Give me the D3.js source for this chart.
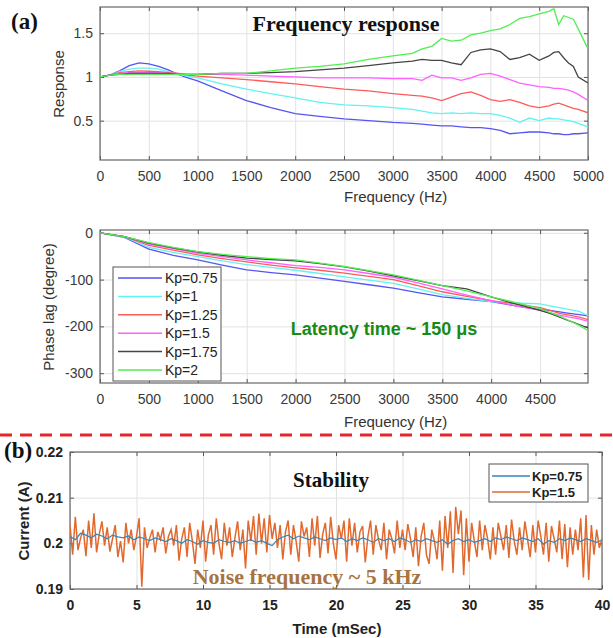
<!DOCTYPE html>
<html>
<head>
<meta charset="utf-8">
<script src="https://cdnjs.cloudflare.com/ajax/libs/d3/7.8.5/d3.min.js"></script>
<style>
body{margin:0;background:#fff;}
svg{display:block;}
.tk text{font-family:"Liberation Sans",Arial,sans-serif;font-size:14px;fill:#3a3a3a;}
.tk path,.tk line{stroke:#555;}
.grid line{stroke:#e2e2e2;}
.grid path{display:none;}
.bold text{font-weight:bold;fill:#222;}
</style>
</head>
<body>
<div id="chart"></div>
<script>
var W = 613, H = 638;

// ---- (a) frequency response ----
var freqA = [0,100,200,300,400,500,600,700,800,900,1000,1250,1500,1750,2000,2250,2500,2750,3000,3200,3300,3400,3500,3600,3700,3800,3900,4000,4100,4200,4300,4400,4500,4600,4650,4700,4750,4800,4850,4900,5000];
var kpNames = ["Kp=0.75","Kp=1","Kp=1.25","Kp=1.5","Kp=1.75","Kp=2"];
var kpColors = ["#5555f2","#62f2f2","#ff5a5a","#ff60ff","#454545","#50ee50"];

var resp075 = [1.0,1.02,1.07,1.13,1.16,1.15,1.12,1.08,1.03,0.99,0.955,0.84,0.73,0.65,0.58,0.55,0.52,0.50,0.48,0.47,0.46,0.45,0.44,0.44,0.43,0.42,0.42,0.41,0.39,0.35,0.36,0.37,0.37,0.36,0.35,0.35,0.34,0.34,0.35,0.35,0.36];
var resp1   = [1.0,1.02,1.06,1.09,1.10,1.10,1.09,1.06,1.03,1.01,0.99,0.92,0.86,0.81,0.76,0.71,0.68,0.67,0.65,0.63,0.61,0.59,0.58,0.59,0.58,0.59,0.58,0.58,0.56,0.53,0.48,0.53,0.50,0.53,0.52,0.52,0.51,0.50,0.49,0.47,0.43];
var resp125 = [1.0,1.02,1.05,1.06,1.07,1.065,1.06,1.05,1.04,1.02,1.01,0.99,0.97,0.945,0.92,0.89,0.86,0.84,0.81,0.79,0.78,0.76,0.73,0.77,0.81,0.83,0.79,0.74,0.72,0.74,0.71,0.67,0.65,0.67,0.69,0.70,0.68,0.66,0.64,0.63,0.59];
var resp15  = [1.0,1.02,1.04,1.05,1.05,1.05,1.05,1.04,1.04,1.03,1.03,1.03,1.02,1.01,1.0,0.99,0.99,0.99,0.98,0.98,0.96,1.02,0.99,0.99,0.96,0.99,1.03,1.04,1.01,0.97,0.93,0.91,0.89,0.88,0.87,0.87,0.86,0.85,0.83,0.80,0.73];
var resp175 = [1.0,1.02,1.03,1.04,1.04,1.04,1.04,1.04,1.03,1.03,1.03,1.04,1.04,1.05,1.06,1.08,1.10,1.13,1.16,1.18,1.20,1.19,1.19,1.16,1.14,1.28,1.31,1.32,1.29,1.20,1.22,1.26,1.19,1.24,1.28,1.29,1.22,1.16,1.12,1.0,0.93];
var resp2   = [1.0,1.02,1.03,1.03,1.03,1.03,1.03,1.03,1.03,1.03,1.03,1.04,1.04,1.07,1.10,1.12,1.15,1.20,1.24,1.27,1.32,1.35,1.44,1.41,1.42,1.48,1.50,1.53,1.55,1.60,1.67,1.69,1.72,1.75,1.78,1.60,1.70,1.68,1.66,1.55,1.32];
var respAll = [resp075,resp1,resp125,resp15,resp175,resp2];

var freqP = [0,250,500,750,1000,1250,1500,1750,2000,2250,2500,2750,3000,3250,3500,3750,4000,4250,4500,4600,4700,4800,4900,5000];
var ph075 = [0,-10,-35,-48,-58,-69,-79,-85,-90,-97,-104,-111,-118,-128,-137,-142,-147,-156,-164,-166,-169,-172,-175,-178];
var ph1   = [0,-9,-31,-42,-51,-60,-68,-74,-80,-87,-94,-101,-108,-120,-132,-140,-147,-150,-152,-156,-160,-164,-168,-178];
var ph125 = [0,-8,-27,-37,-47,-55,-62,-69,-75,-80,-86,-93,-100,-113,-126,-136,-145,-152,-160,-166,-172,-176,-180,-186];
var ph15  = [0,-8,-24,-34,-44,-51,-58,-64,-70,-74,-79,-87,-95,-107,-120,-133,-145,-156,-166,-171,-176,-180,-184,-190];
var ph175 = [0,-8,-22,-32,-41,-48,-54,-57,-60,-66,-73,-82,-92,-102,-113,-120,-137,-152,-166,-172,-180,-188,-196,-204];
var ph2   = [0,-8,-21,-31,-40,-46,-51,-55,-58,-65,-72,-81,-90,-101,-113,-124,-137,-149,-162,-170,-178,-188,-198,-210];
var phAll = [ph075,ph1,ph125,ph15,ph175,ph2];

// ---- (b) stability, current in A ----
var dtOrange = 0.2, dtBlue = 0.4; // ms between samples
var curKp15 = [
0.2040,0.1975,0.2058,0.1985,0.2012,0.2030,0.1972,0.2050,0.1990,0.2066,
0.1980,0.2020,0.2048,0.1995,0.2035,0.1982,0.2010,0.2040,0.1970,0.2005,
0.1958,0.2045,0.2000,0.2030,0.1985,0.2015,0.2055,0.1905,0.2035,0.1990,
0.2012,0.2030,0.1980,0.2025,0.2008,0.2035,0.1978,0.2015,0.2030,0.1995,
0.2040,0.1962,0.2010,0.2035,0.1970,0.2045,0.2005,0.1955,0.2030,0.1990,
0.2050,0.1960,0.2018,0.2040,0.1975,0.2055,0.2000,0.1965,0.2045,0.1995,
0.2035,0.1970,0.2012,0.2048,0.1985,0.2030,0.1945,0.2050,0.2005,0.2060,
0.1975,0.2065,0.2000,0.2055,0.1980,0.2062,0.2010,0.2045,0.1990,0.2040,
0.1965,0.2025,0.2050,0.1975,0.2040,0.2005,0.1960,0.2048,0.2015,0.2035,
0.1970,0.2055,0.1995,0.2060,0.1968,0.2020,0.2045,0.1978,0.2058,0.2000,
0.1965,0.2040,0.2010,0.2050,0.1960,0.2055,0.1995,0.2045,0.1980,0.2025,
0.2038,0.1958,0.2015,0.2050,0.1975,0.2040,0.2008,0.1985,0.2045,0.1965,
0.2030,0.2010,0.1978,0.2050,0.1990,0.2030,0.1985,0.2042,0.2010,0.1970,
0.2035,0.1950,0.2015,0.2045,0.1975,0.1955,0.2030,0.2005,0.1965,0.2050,
0.1940,0.2060,0.1990,0.2070,0.1935,0.2080,0.2020,0.2072,0.1930,0.2055,
0.1960,0.2045,0.2005,0.1970,0.2050,0.1985,0.2040,0.2010,0.1965,0.2035,
0.1975,0.2045,0.2015,0.1985,0.2040,0.1968,0.2052,0.2005,0.1975,0.2035,
0.1985,0.2048,0.2010,0.1970,0.2040,0.1980,0.2050,0.2015,0.1975,0.2045,
0.1960,0.2038,0.2010,0.1980,0.2050,0.1965,0.2042,0.1948,0.2035,0.1975,
0.2030,0.1985,0.2055,0.1925,0.2062,0.1920,0.2040,0.1975,0.2030,0.1990,
0.2010];
var curKp075 = [
0.2015,0.2008,0.2022,0.2018,0.2012,0.2020,0.2016,0.2010,0.2018,0.2014,
0.2012,0.2016,0.2008,0.2014,0.2010,0.2006,0.2012,0.2008,0.2004,0.2010,
0.2006,0.2000,0.2008,0.2004,0.1998,0.2006,0.2002,0.2000,0.2008,0.2004,
0.2002,0.2006,0.2000,0.2004,0.2008,0.2002,0.2006,0.2000,0.1995,0.2008,
0.2014,0.2018,0.2010,0.2016,0.2012,0.2008,0.2014,0.2010,0.2006,0.2012,
0.2008,0.2012,0.2004,0.2010,0.2006,0.2012,0.2008,0.2002,0.2010,0.2006,
0.2010,0.2004,0.2012,0.2008,0.2002,0.2008,0.2004,0.2010,0.2006,0.2002,
0.2008,0.1998,0.2006,0.2010,0.2004,0.2008,0.2002,0.2006,0.2010,0.2004,
0.2012,0.2008,0.2014,0.2010,0.2006,0.2012,0.2008,0.2004,0.2010,0.1998,
0.2006,0.2002,0.2010,0.2006,0.2012,0.2008,0.2004,0.2010,0.2006,0.2002,
0.2008];
var bNames = ["Kp=0.75","Kp=1.5"];
var bColors = ["#3a84b6","#e2692e"];

var svg = d3.select("#chart").append("svg").attr("width",W).attr("height",H);

function panelAxes(g, x, y, xt, yt, xfmt, yfmt, boldCls){
  var x0 = x.range()[0], x1 = x.range()[1], y0 = y.range()[0], y1 = y.range()[1];
  var h = y0 - y1, w = x1 - x0;
  g.append("g").attr("class","grid").attr("transform","translate(0,"+y0+")")
    .call(d3.axisBottom(x).tickValues(xt).tickSize(-h).tickFormat(""));
  g.append("g").attr("class","grid").attr("transform","translate("+x0+",0)")
    .call(d3.axisLeft(y).tickValues(yt).tickSize(-w).tickFormat(""));
  g.append("g").attr("class","tk "+boldCls).attr("transform","translate(0,"+y0+")")
    .call(d3.axisBottom(x).tickValues(xt).tickSizeInner(-4).tickSizeOuter(0).tickPadding(11).tickFormat(xfmt));
  g.append("g").attr("class","tk "+boldCls).attr("transform","translate("+x0+",0)")
    .call(d3.axisLeft(y).tickValues(yt).tickSizeInner(-4).tickSizeOuter(0).tickPadding(7).tickFormat(yfmt));
  g.append("g").attr("class","tk").attr("transform","translate(0,"+y1+")")
    .call(d3.axisTop(x).tickValues(xt).tickSizeInner(-4).tickSizeOuter(0).tickFormat(""));
  g.append("g").attr("class","tk").attr("transform","translate("+x1+",0)")
    .call(d3.axisRight(y).tickValues(yt).tickSizeInner(-4).tickSizeOuter(0).tickFormat(""));
  g.selectAll(".tk path").remove();
  g.append("rect").attr("x",x0).attr("y",y1).attr("width",w).attr("height",h)
    .attr("fill","none").attr("stroke","#666").attr("stroke-width",1.2);
}

function label(txt, x, y, opts){
  var t = svg.append("text").attr("x",x).attr("y",y).text(txt)
    .attr("font-family", opts.serif ? "'Liberation Serif','Times New Roman',serif" : "'Liberation Sans',Arial,sans-serif")
    .attr("font-size", opts.size || 15)
    .attr("font-weight", opts.bold ? "bold" : "normal")
    .attr("fill", opts.color || "#333")
    .attr("text-anchor", opts.anchor || "start");
  if(opts.rot) t.attr("transform","rotate(-90,"+x+","+y+")");
  return t;
}

// ===== panel 1: response =====
var x1 = d3.scaleLinear().domain([0,5000]).range([100,588]);
var y1 = d3.scaleLinear().domain([0.05,1.8]).range([160,7]);
var g1 = svg.append("g");
panelAxes(g1, x1, y1, d3.range(0,5001,500), [0.5,1,1.5], d3.format("d"), function(d){return d;}, "");
svg.append("clipPath").attr("id","c1").append("rect").attr("x",100).attr("y",7).attr("width",488).attr("height",153);
var line1 = d3.line().x(function(d,i){return x1(freqA[i]);}).y(function(d){return y1(d);});
g1.append("g").attr("clip-path","url(#c1)").selectAll("path").data(respAll).enter().append("path")
  .attr("d", line1).attr("fill","none").attr("stroke-width",1.3)
  .attr("stroke", function(d,i){return kpColors[i];});
label("Frequency (Hz)", 344, 202, {size:15});
label("Response", 64, 84, {size:15, rot:true, anchor:"middle"});
label("(a)", 11, 29, {serif:true, bold:true, size:23, color:"#111"});
label("Frequency response", 346, 31, {serif:true, bold:true, size:22, color:"#111", anchor:"middle"});

// ===== panel 2: phase =====
var x2 = d3.scaleLinear().domain([0,4990]).range([100,588]);
var y2 = d3.scaleLinear().domain([-321,6]).range([383,230]);
var g2 = svg.append("g");
panelAxes(g2, x2, y2, d3.range(0,4501,500), [-300,-200,-100,0], d3.format("d"), function(d){return d===0?"0":d;}, "");
svg.append("clipPath").attr("id","c2").append("rect").attr("x",100).attr("y",230).attr("width",488).attr("height",153);
var line2 = d3.line().x(function(d,i){return x2(freqP[i]);}).y(function(d){return y2(d);});
g2.append("g").attr("clip-path","url(#c2)").selectAll("path").data(phAll).enter().append("path")
  .attr("d", line2).attr("fill","none").attr("stroke-width",1.3)
  .attr("stroke", function(d,i){return kpColors[i];});
label("Frequency (Hz)", 344, 427, {size:15});
label("Phase lag (degree)", 54, 307, {size:15, rot:true, anchor:"middle"});
label("Latency time ~ 150 \u03bcs", 384, 335, {bold:true, size:18, color:"#178a17", anchor:"middle"});

// legend for panel 2
var leg2 = g2.append("g");
leg2.append("rect").attr("x",113).attr("y",267).attr("width",108).attr("height",114)
  .attr("fill","#fff").attr("stroke","#555").attr("stroke-width",1);
kpNames.forEach(function(n,i){
  var yy = 278 + i*18.4;
  leg2.append("line").attr("x1",118).attr("x2",162).attr("y1",yy).attr("y2",yy)
    .attr("stroke",kpColors[i]).attr("stroke-width",1.5);
  leg2.append("text").attr("x",165).attr("y",yy+5).text(n)
    .attr("font-family","'Liberation Sans',Arial,sans-serif").attr("font-size",14).attr("fill","#222");
});

// dashed separator
svg.append("line").attr("x1",0).attr("x2",W).attr("y1",435).attr("y2",435)
  .attr("stroke","#e8242a").attr("stroke-width",3).attr("stroke-dasharray","12,8");

// ===== panel 3: stability =====
var x3 = d3.scaleLinear().domain([0,40]).range([70,602]);
var y3 = d3.scaleLinear().domain([0.19,0.22]).range([589,452]);
var g3 = svg.append("g");
panelAxes(g3, x3, y3, d3.range(0,41,5), [0.19,0.2,0.21,0.22], d3.format("d"), function(d){return d3.format(".2f")(d).replace(/0$/,"");}, "bold");
svg.append("clipPath").attr("id","c3").append("rect").attr("x",70).attr("y",452).attr("width",532).attr("height",137);
var gl3 = g3.append("g").attr("clip-path","url(#c3)");
gl3.append("path").datum(curKp15)
  .attr("d", d3.line().x(function(d,i){return x3(i*dtOrange);}).y(function(d){return y3(d);}))
  .attr("fill","none").attr("stroke",bColors[1]).attr("stroke-width",1.5);
gl3.append("path").datum(curKp075)
  .attr("d", d3.line().x(function(d,i){return x3(i*dtBlue);}).y(function(d){return y3(d);}))
  .attr("fill","none").attr("stroke",bColors[0]).attr("stroke-width",1.2);

label("Time (mSec)", 337, 634, {bold:true, size:15, color:"#222", anchor:"middle"});
label("Current (A)", 29, 521, {bold:true, size:15, color:"#222", rot:true, anchor:"middle"});
label("(b)", 4, 458, {serif:true, bold:true, size:23, color:"#111"});
label("Stability", 331, 487, {serif:true, bold:true, size:21, color:"#111", anchor:"middle"});
label("Noise frequency ~ 5 kHz", 307, 584, {serif:true, bold:true, size:22, color:"#a8733f", anchor:"middle"});

var leg3 = g3.append("g");
leg3.append("rect").attr("x",489).attr("y",464).attr("width",99).attr("height",38)
  .attr("fill","#fff").attr("stroke","#555").attr("stroke-width",1);
bNames.forEach(function(n,i){
  var yy = 476 + i*16;
  leg3.append("line").attr("x1",492).attr("x2",530).attr("y1",yy).attr("y2",yy)
    .attr("stroke",bColors[i]).attr("stroke-width",1.3);
  leg3.append("text").attr("x",532).attr("y",yy+5).text(n)
    .attr("font-family","'Liberation Sans',Arial,sans-serif").attr("font-size",13)
    .attr("font-weight","bold").attr("fill","#222");
});
</script>
</body>
</html>
